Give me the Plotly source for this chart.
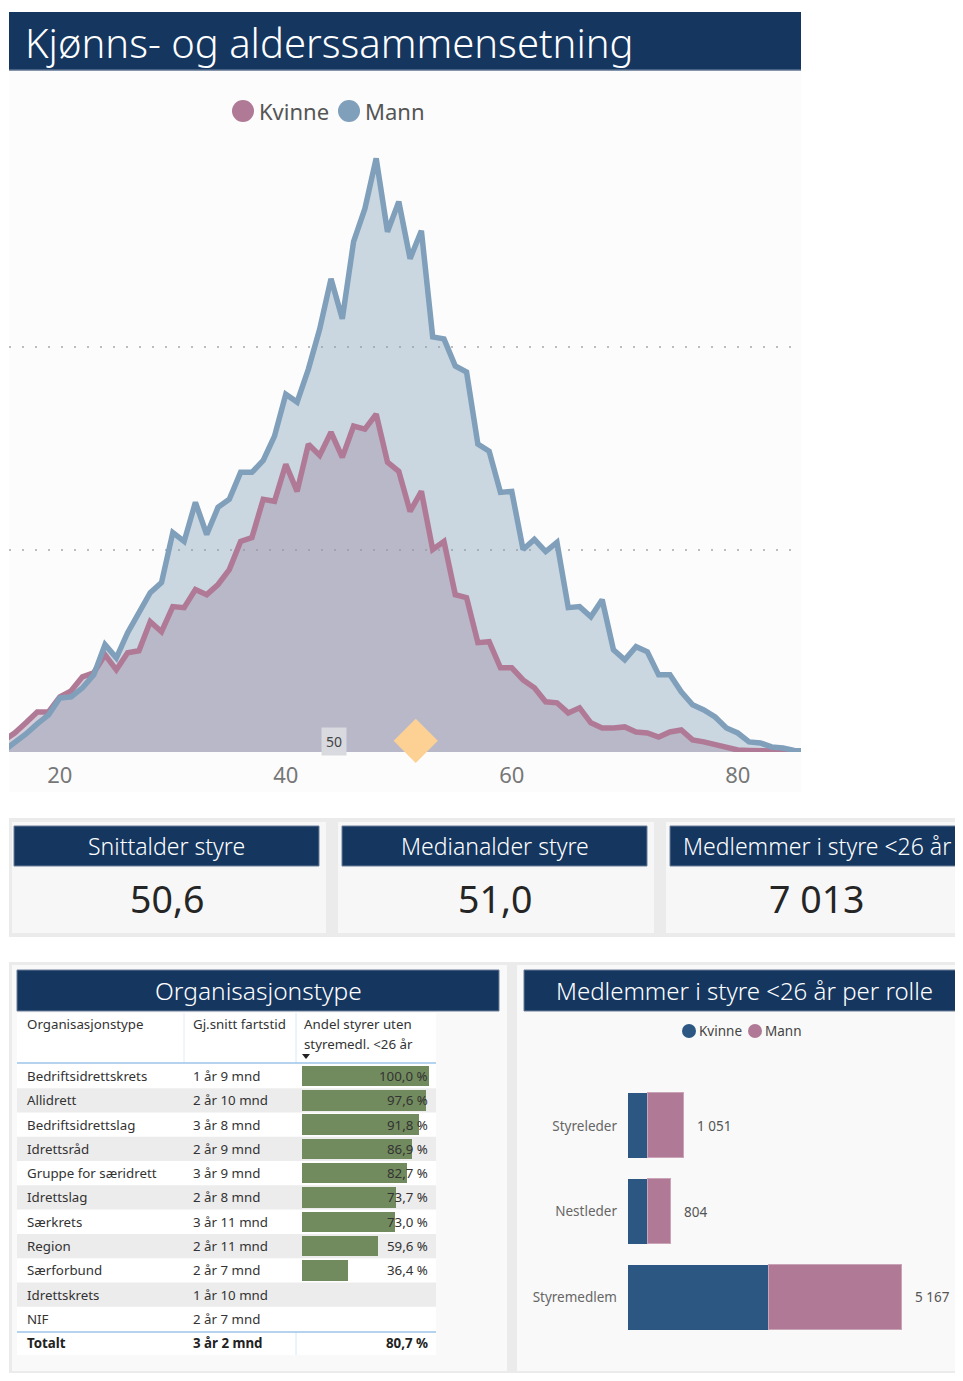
import plotly.graph_objects as go

# the page puts an 8px body margin round the figure, so the figure is sized
# to fill the rest of the window and coordinates are measured from the window
OFF = 8
W, H = 963 - OFF, 1381 - 2 * OFF
FONT = "Segoe UI, Noto Sans, sans-serif"
NAVY = "#14365f"


def px(x):
    return (x - OFF) / W


def py(y):
    return 1 - (y - OFF) / H


# --- data ---------------------------------------------------------------
alder = list(range(15, 87))
mann = [5, 45, 89, 139, 183, 267, 272, 317, 381, 530, 465, 589, 688, 787, 837,
        1084, 1040, 1233, 1074, 1208, 1248, 1381, 1381, 1440, 1560, 1767, 1728,
        1891, 2089, 2337, 2139, 2520, 2683, 2931, 2569, 2718, 2436, 2574, 2050,
        2040, 1906, 1876, 1520, 1485, 1282, 1287, 1000, 1050, 990, 1035, 713,
        718, 668, 752, 505, 455, 520, 495, 381, 381, 297, 233, 208, 173, 119,
        94, 50, 45, 25, 20, 8, 4]
kvinne = [55, 94, 144, 198, 198, 272, 302, 371, 391, 480, 406, 490, 500, 644,
          594, 718, 713, 802, 777, 827, 901, 1040, 1059, 1248, 1238, 1421, 1287,
          1520, 1465, 1579, 1455, 1609, 1594, 1668, 1431, 1386, 1188, 1287,
          1000, 1040, 777, 762, 540, 545, 416, 416, 356, 317, 248, 243, 193,
          218, 144, 119, 119, 124, 99, 94, 74, 99, 109, 60, 50, 35, 20, 10, 8,
          6, 5, 4, 3, 2]
x_ticks = [20, 40, 60, 80]
markor_alder = [51.5]
markor_verdi = [55]

kpi_titler = ["Snittalder styre", "Medianalder styre", "Medlemmer i styre <26 år"]
kpi_verdier = ["50,6", "51,0", "7 013"]

org_navn = ["Bedriftsidrettskrets", "Allidrett", "Bedriftsidrettslag", "Idrettsråd",
            "Gruppe for særidrett", "Idrettslag", "Særkrets", "Region",
            "Særforbund", "Idrettskrets", "NIF"]
fartstid = ["1 år 9 mnd", "2 år 10 mnd", "3 år 8 mnd", "2 år 9 mnd", "3 år 9 mnd",
            "2 år 8 mnd", "3 år 11 mnd", "2 år 11 mnd", "2 år 7 mnd", "1 år 10 mnd",
            "2 år 7 mnd"]
andel = [100.0, 97.6, 91.8, 86.9, 82.7, 73.7, 73.0, 59.6, 36.4, None, None]
totalt = ["Totalt", "3 år 2 mnd", 80.7]

roller = ["Styreleder", "Nestleder", "Styremedlem"]
rolle_kvinne = [371, 371, 2653]
rolle_mann = [680, 433, 2514]


def pst(v):
    return f"{v:.1f} %".replace(".", ",")


def tusen(v):
    return f"{v:,}".replace(",", " ")


fig = go.Figure()

# --- area chart ---------------------------------------------------------
fig.add_trace(go.Scatter(x=alder, y=mann, mode="lines", fill="tozeroy",
                         fillcolor="rgba(128,159,186,0.4)", line=dict(width=0),
                         hoverinfo="skip", showlegend=False))
fig.add_trace(go.Scatter(x=alder, y=kvinne, mode="lines", fill="tozeroy",
                         fillcolor="rgba(160,140,170,0.42)", line=dict(width=0),
                         hoverinfo="skip", showlegend=False))
fig.add_trace(go.Scatter(x=alder, y=kvinne, mode="lines", name="Kvinne",
                         line=dict(color="#b07a96", width=5.5), showlegend=False))
fig.add_trace(go.Scatter(x=alder, y=mann, mode="lines", name="Mann",
                         line=dict(color="#7f9fbb", width=5.5), showlegend=False))
fig.add_trace(go.Scatter(x=markor_alder, y=markor_verdi, mode="markers",
                         marker=dict(symbol="diamond", size=34, color="#fdd193"),
                         cliponaxis=False, showlegend=False))

# --- table data bars ----------------------------------------------------
bar_vals = [v for v in andel if v is not None]
fig.add_trace(go.Bar(x=bar_vals, y=list(range(len(bar_vals))), orientation="h",
                     marker=dict(color="#728b5e", line=dict(width=0)), width=0.84,
                     xaxis="x3", yaxis="y3", showlegend=False))

# --- role bars ----------------------------------------------------------
fig.add_trace(go.Bar(y=roller, x=rolle_kvinne, orientation="h", name="Kvinne",
                     marker=dict(color="#2c5783", line=dict(width=0)), width=0.76,
                     xaxis="x4", yaxis="y4", showlegend=False))
fig.add_trace(go.Bar(y=roller, x=rolle_mann, orientation="h", name="Mann",
                     marker=dict(color="#b07a96", line=dict(width=1, color="#c9a3b6")),
                     width=0.76, xaxis="x4", yaxis="y4", showlegend=False))

shapes = []


def rect(x0, y0, x1, y1, fill, line=None, lw=0):
    shapes.append(dict(type="rect", xref="paper", yref="paper",
                       x0=px(x0), x1=px(x1), y0=py(y1), y1=py(y0),
                       fillcolor=fill, line=dict(width=lw, color=line or fill),
                       layer="below"))


def hline(x0, x1, y, color, lw=1.5):
    shapes.append(dict(type="line", xref="paper", yref="paper",
                       x0=px(x0), x1=px(x1), y0=py(y), y1=py(y),
                       line=dict(color=color, width=lw), layer="below"))


def vline(x, y0, y1, color, lw=1):
    shapes.append(dict(type="line", xref="paper", yref="paper",
                       x0=px(x), x1=px(x), y0=py(y0), y1=py(y1),
                       line=dict(color=color, width=lw), layer="below"))


def dot(cx, cy, r, color):
    shapes.append(dict(type="circle", xref="paper", yref="paper",
                       x0=px(cx - r), x1=px(cx + r), y0=py(cy + r), y1=py(cy - r),
                       fillcolor=color, line=dict(width=0)))


annotations = []


def text(x, y, s, size, color="#333", anchor="left", bold=False, weight=None):
    annotations.append(dict(xref="paper", yref="paper", x=px(x), y=py(y),
                            text=f"<b>{s}</b>" if bold else s, showarrow=False,
                            xanchor=anchor, yanchor="middle",
                            font=dict(family=FONT, size=size, color=color,
                                      weight=weight)))


# top panel
rect(9, 70, 801, 792, "#fcfcfc")
rect(9, 12, 801, 70, NAVY)
hline(9, 801, 70, "#5b7290", 1.5)
text(23, 42, "Kjønns- og alderssammensetning", 40, "white", weight=300)

dot(243, 111, 11, "#b07a96")
text(257, 111, "Kvinne", 22, "#555")
dot(349, 111, 11, "#7f9fbb")
text(363, 111, "Mann", 22, "#555")

annotations.append(dict(xref="paper", yref="paper", x=px(321), y=py(741), text="50",
                        showarrow=False, bgcolor="#d9d9e0", borderpad=4,
                        font=dict(family=FONT, size=14, color="#444")))

# KPI cards
rect(9, 818, 963, 937, "#ebebeb")
cards = [(12, 326, 14, 319), (338, 654, 342, 647), (666, 963, 670, 963)]
for (c0, c1, t0, t1), tittel, verdi in zip(cards, kpi_titler, kpi_verdier):
    rect(c0, 822, c1, 933, "#f7f7f7")
    rect(t0, 826, t1, 866, NAVY, "#6b7f99", 1)
    cx = (t0 + t1) / 2 if t1 < 963 else 817
    text(cx, 846, tittel, 23, "white", "center", weight=300)
    text(cx, 898, verdi, 37.5, "#252525", "center")

# bottom panels
rect(9, 962, 963, 1373, "#ebebeb")
rect(12, 965, 507, 1371, "#f9f9f9")
rect(517, 965, 963, 1371, "#f9f9f9")
rect(17, 970, 499, 1011, NAVY, "#6b7f99", 1)
rect(524, 970, 963, 1011, NAVY, "#6b7f99", 1)
text(258, 990, "Organisasjonstype", 24.5, "white", "center", weight=300)
text(744, 990, "Medlemmer i styre <26 år per rolle", 24, "white", "center", weight=300)

# table
row_top, row_h = 1064, 24.27
rect(17, 1013, 436, 1355, "white")
for i in range(len(org_navn)):
    if i % 2 == 1:
        rect(17, row_top + i * row_h, 436, row_top + (i + 1) * row_h, "#ececec")
vline(184, 1013, 1063, "#e4ecf5")
vline(296, 1013, 1063, "#d6e6f6")
vline(296, 1332, 1355, "#d6e6f6")
hline(17, 436, 1063, "#9cc3e8", 1.5)
hline(17, 436, 1332, "#9cc3e8", 1.5)
shapes.append(dict(type="path", xref="paper", yref="paper",
                   path=f"M {px(302)},{py(1054)} L {px(310)},{py(1054)} L {px(306)},{py(1059)} Z",
                   fillcolor="#222", line=dict(width=0)))

TS = 13.3
text(25, 1024, "Organisasjonstype", TS, "#333")
text(191, 1024, "Gj.snitt fartstid", TS, "#333")
text(302, 1024, "Andel styrer uten", TS, "#333")
text(302, 1044, "styremedl. <26 år", TS, "#333")
for i, (navn, tid, a) in enumerate(zip(org_navn, fartstid, andel)):
    yc = row_top + (i + 0.5) * row_h
    text(25, yc, navn, TS, "#333")
    text(191, yc, tid, TS, "#333")
    if a is not None:
        text(430, yc, pst(a), TS, "#333", "right")
text(25, 1343, totalt[0], TS, "#222", bold=True)
text(191, 1343, totalt[1], TS, "#222", bold=True)
text(430, 1343, pst(totalt[2]), TS, "#222", "right", bold=True)

# role chart legend and labels
dot(689, 1031, 7, "#2c5783")
text(697, 1031, "Kvinne", 13.5, "#444")
dot(755, 1031, 7, "#b07a96")
text(763, 1031, "Mann", 13.5, "#444")
for r, k, m in zip(roller, rolle_kvinne, rolle_mann):
    annotations.append(dict(xref="x4", yref="y4", x=k + m, y=r, text=tusen(k + m),
                            showarrow=False, xanchor="left", xshift=11,
                            font=dict(family=FONT, size=13.5, color="#555")))

fig.update_layout(
    width=W, height=H, margin=dict(l=0, r=0, t=0, b=0),
    paper_bgcolor="white", plot_bgcolor="rgba(0,0,0,0)",
    font=dict(family=FONT), barmode="stack", bargap=0,
    shapes=shapes, annotations=annotations, showlegend=False,
    xaxis=dict(domain=[px(9), px(801)], range=[15.5, 85.6], tickvals=x_ticks,
               showgrid=False, zeroline=False, showline=False,
               tickfont=dict(size=22, color="#777"), ticklabelstandoff=8),
    yaxis=dict(domain=[py(752), py(144.5)], range=[0, 3000],
               tickvals=[0, 1000, 2000], showticklabels=False, showgrid=True,
               gridcolor="#bdbdbd", gridwidth=1.5, griddash="2px,11px",
               zeroline=False, showline=False),
    xaxis3=dict(domain=[px(302), px(429)], range=[0, 100], visible=False),
    yaxis3=dict(domain=[py(1331), py(1064)], range=[10.5, -0.5], visible=False,
                anchor="x3"),
    xaxis4=dict(domain=[px(628), px(950)], range=[0, 6072], visible=False,
                anchor="y4"),
    yaxis4=dict(domain=[py(1340), py(1083)], type="category",
                categoryorder="array", categoryarray=roller, range=[2.5, -0.5],
                anchor="x4", showgrid=False, zeroline=False, showline=False,
                tickfont=dict(size=13.5, color="#666"), ticklabelstandoff=10),
)

fig.write_html("out.html")
